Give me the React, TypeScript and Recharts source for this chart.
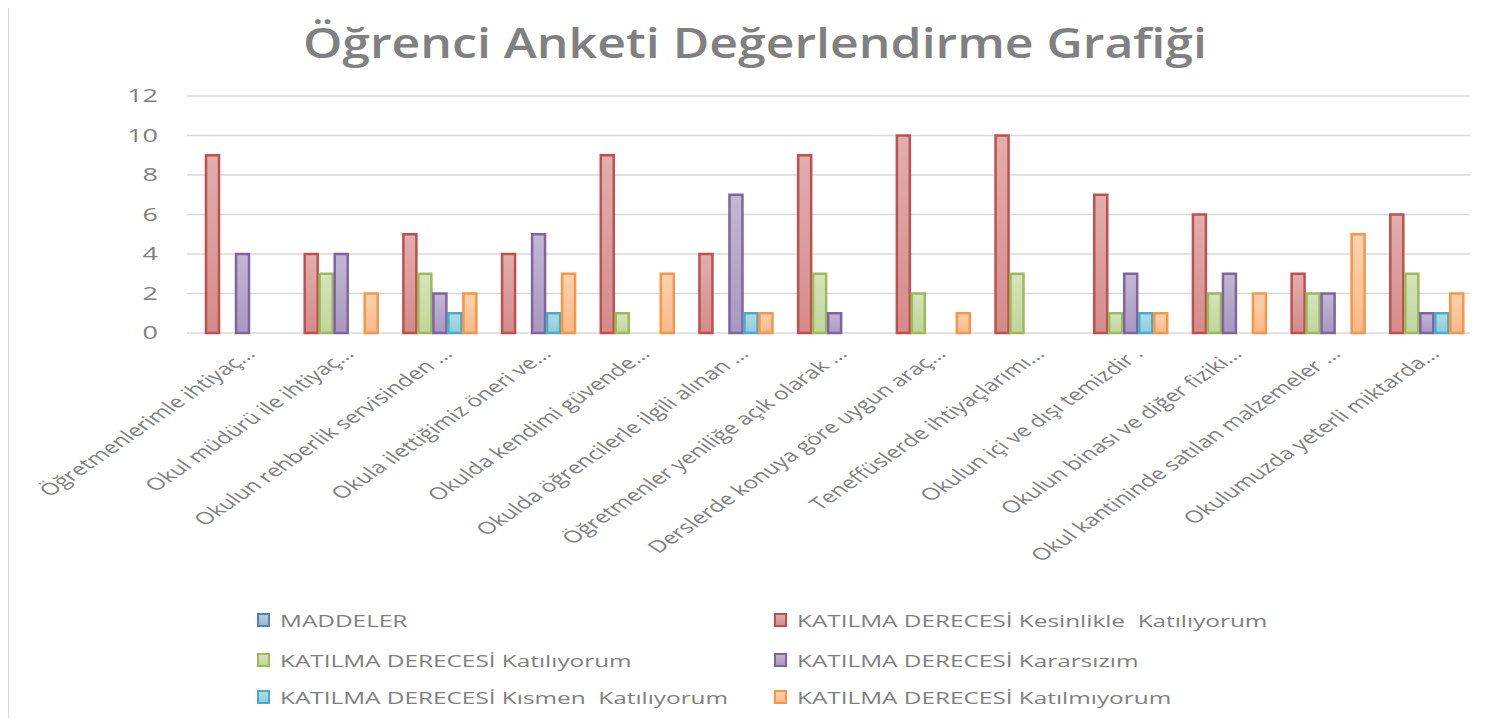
import React from 'react';
import { BarChart, Bar, XAxis, YAxis, CartesianGrid } from 'recharts';

const categories = [
  'Öğretmenlerimle ihtiyaç…',
  'Okul müdürü ile ihtiyaç…',
  'Okulun rehberlik servisinden …',
  'Okula ilettiğimiz öneri ve…',
  'Okulda kendimi güvende…',
  'Okulda öğrencilerle ilgili alınan …',
  'Öğretmenler yeniliğe açık olarak …',
  'Derslerde konuya göre uygun araç…',
  'Teneffüslerde ihtiyaçlarımı…',
  'Okulun içi ve dışı temizdir .',
  'Okulun binası ve diğer fiziki…',
  'Okul kantininde satılan malzemeler …',
  'Okulumuzda yeterli miktarda…',
];

const maddeler: (number | null)[] = [null, null, null, null, null, null, null, null, null, null, null, null, null];
const kesinlikle = [9, 4, 5, 4, 9, 4, 9, 10, 10, 7, 6, 3, 6];
const katiliyorum = [null, 3, 3, null, 1, null, 3, 2, 3, 1, 2, 2, 3];
const kararsizim = [4, 4, 2, 5, null, 7, 1, null, null, 3, 3, 2, 1];
const kismen = [null, null, 1, 1, null, 1, null, null, null, 1, null, null, 1];
const katilmiyorum = [null, 2, 2, 3, 3, 1, null, 1, null, 1, 2, 5, 2];

const yTicks = [0, 2, 4, 6, 8, 10, 12];

const series = [
  { key: 'maddeler', name: 'MADDELER', values: maddeler, stroke: '#4f81bd', top: '#b9cde6', bottom: '#9bb5d8' },
  { key: 'kesinlikle', name: 'KATILMA DERECESİ Kesinlikle  Katılıyorum', values: kesinlikle, stroke: '#c0504d', top: '#e0afae', bottom: '#d48b8a' },
  { key: 'katiliyorum', name: 'KATILMA DERECESİ Katılıyorum', values: katiliyorum, stroke: '#9bbb59', top: '#d6e4bc', bottom: '#c0d59b' },
  { key: 'kararsizim', name: 'KATILMA DERECESİ Kararsızım', values: kararsizim, stroke: '#8064a2', top: '#c2b8d3', bottom: '#a997c0' },
  { key: 'kismen', name: 'KATILMA DERECESİ Kısmen  Katılıyorum', values: kismen, stroke: '#4bacc6', top: '#b1dbe7', bottom: '#8ecbdc' },
  { key: 'katilmiyorum', name: 'KATILMA DERECESİ Katılmıyorum', values: katilmiyorum, stroke: '#f79646', top: '#fdd2ae', bottom: '#fbb98a' },
];

const data = categories.map((name, i) => {
  const row: Record<string, string | number | null> = { name };
  series.forEach((s) => {
    row[s.key] = s.values[i];
  });
  return row;
});

const STRETCH = 1.45;
const GRAY = '#808080';
const FONT = '"Open Sans", "Noto Sans", sans-serif';

const XTick = (props: any) => {
  const { x, y, payload } = props;
  return (
    <g transform={`translate(${x + 20},${y + 14}) scale(${STRETCH},1) rotate(-45)`}>
      <text textAnchor="end" fill={GRAY} fontSize={16.8} fontFamily={FONT} style={{ whiteSpace: 'pre' }}>
        {payload.value}
      </text>
    </g>
  );
};

const YTick = (props: any) => {
  const { x, y, payload } = props;
  return (
    <g transform={`translate(${x},${y + 6}) scale(1.5,1)`}>
      <text textAnchor="end" fill={GRAY} fontSize={18} fontFamily={FONT}>
        {payload.value}
      </text>
    </g>
  );
};

const legendRows = [
  [0, 1],
  [2, 3],
  [4, 5],
];

export default function App() {
  return (
    <div style={{ margin: -8, position: 'relative', width: 1485, height: 726, background: '#fff' }}>
      <BarChart
        width={1485}
        height={726}
        data={data}
        margin={{ top: 96, right: 15, left: 0, bottom: 293 }}
        barCategoryGap={4}
        barGap={2}
      >
        <defs>
          {series.map((s) => (
            <linearGradient key={s.key} id={`g-${s.key}`} x1="0" y1="0" x2="0" y2="1">
              <stop offset="0%" stopColor={s.top} />
              <stop offset="100%" stopColor={s.bottom} />
            </linearGradient>
          ))}
        </defs>
        <CartesianGrid vertical={false} stroke="#d9d9d9" strokeWidth={1.3} />
        <XAxis
          dataKey="name"
          height={100}
          axisLine={false}
          tickLine={false}
          interval={0}
          tick={<XTick />}
        />
        <YAxis
          width={187}
          domain={[0, 12]}
          ticks={yTicks}
          axisLine={false}
          tickLine={false}
          tickMargin={23}
          tick={<YTick />}
        />
        {series.map((s) => (
          <Bar
            key={s.key}
            dataKey={s.key}
            name={s.name}
            fill={`url(#g-${s.key})`}
            stroke={s.stroke}
            strokeWidth={2.5}
            isAnimationActive={false}
          />
        ))}
      </BarChart>
      <svg
        width={1485}
        height={726}
        style={{ position: 'absolute', left: 0, top: 0, pointerEvents: 'none' }}
      >
        <defs>
          {series.map((s) => (
            <linearGradient key={s.key} id={`lg-${s.key}`} x1="0" y1="0" x2="0" y2="1">
              <stop offset="0%" stopColor={s.top} />
              <stop offset="100%" stopColor={s.bottom} />
            </linearGradient>
          ))}
        </defs>
        <rect x={8.5} y={-2} width={1472} height={722} fill="none" stroke="#d9d9d9" />
        <text
          x={303}
          y={58}
          fontSize={42}
          fontWeight={600}
          fill={GRAY}
          fontFamily={FONT}
          textLength={904}
          lengthAdjust="spacingAndGlyphs"
        >
          Öğrenci Anketi Değerlendirme Grafiği
        </text>
        {legendRows.map((row, r) =>
          row.map((idx, c) => {
            const s = series[idx];
            const bx = c === 0 ? 258 : 775;
            const by = 614 + r * 40 - (r === 2 ? 3 : 0);
            return (
              <g key={s.key}>
                <rect x={bx} y={by} width={11} height={12} fill={`url(#lg-${s.key})`} stroke={s.stroke} strokeWidth={2} />
                <g transform={`translate(${bx + 22},${by + 13}) scale(${STRETCH},1)`}>
                  <text fill={GRAY} fontSize={16.8} fontFamily={FONT} style={{ whiteSpace: 'pre' }}>
                    {s.name}
                  </text>
                </g>
              </g>
            );
          })
        )}
      </svg>
    </div>
  );
}
